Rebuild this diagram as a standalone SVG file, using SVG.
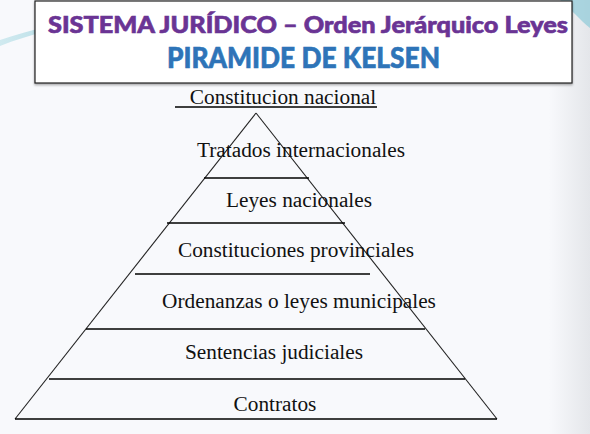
<svg xmlns="http://www.w3.org/2000/svg" width="590" height="434" viewBox="0 0 590 434">
  <defs>
    <linearGradient id="bg" x1="0" y1="0" x2="1" y2="0">
      <stop offset="0" stop-color="#f8f9fc"/>
      <stop offset="0.93" stop-color="#f8f9fc"/>
      <stop offset="1" stop-color="#e4e6ea"/>
    </linearGradient>
    <linearGradient id="sw" x1="0" y1="0" x2="1" y2="0">
      <stop offset="0" stop-color="#bfe3ea"/>
      <stop offset="1" stop-color="#7cc3d3"/>
    </linearGradient>
    <filter id="sh" x="-5%" y="-5%" width="110%" height="120%">
      <feDropShadow dx="0" dy="1.5" stdDeviation="1" flood-color="#000" flood-opacity="0.35"/>
    </filter>
  </defs>
  <style>
    .lbl { font-family: "Liberation Serif", "Times New Roman", serif; font-size: 21.3px; fill: #111; text-anchor: middle; }
    .edge { stroke: #222; stroke-width: 1.1; fill: none; }
    .sep { stroke: #000; stroke-width: 1.3; fill: none; }
    .t1 { font-family: "Lato", "Open Sans", sans-serif; font-weight: 900; font-size: 22px; fill: #6a3494; stroke: #6a3494; stroke-width: 0.6; }
    .t2 { font-family: "Lato", "Open Sans", sans-serif; font-weight: 900; font-size: 28px; fill: #2e74b8; stroke: #2e74b8; stroke-width: 0.6; }
  </style>
  <rect width="590" height="434" fill="url(#bg)"/>
  <path d="M0,40 C30,30 70,20 120,12 L120,16 C70,24 30,34 0,46 Z" fill="url(#sw)" opacity="0.7"/>
  <path d="M560,0 L590,0 L590,28 C580,20 572,10 560,0 Z" fill="#8ecbd8" opacity="0.7"/>

  <g id="title">
    <rect x="35" y="1" width="537" height="82" fill="#ffffff" stroke="#222" stroke-width="1.2" filter="url(#sh)"/>
    <text class="t1" x="48" y="33" textLength="520" lengthAdjust="spacingAndGlyphs">SISTEMA JURÍDICO – Orden Jerárquico Leyes</text>
    <text class="t2" x="167" y="68" textLength="273" lengthAdjust="spacingAndGlyphs">PIRAMIDE DE KELSEN</text>
  </g>

  <g id="connectors">
    <line class="edge" x1="256" y1="113" x2="15" y2="419"/>
    <line class="edge" x1="256" y1="113" x2="497" y2="419"/>
    <line class="sep" x1="175" y1="107" x2="377" y2="107"/>
    <line class="sep" x1="204" y1="178" x2="309" y2="178"/>
    <line class="sep" x1="167" y1="223" x2="345" y2="223"/>
    <line class="sep" x1="135" y1="274" x2="370" y2="274"/>
    <line class="sep" x1="86" y1="329" x2="425" y2="329"/>
    <line class="sep" x1="49" y1="379" x2="465" y2="379"/>
    <line class="sep" x1="15" y1="419" x2="497" y2="419"/>
  </g>

  <g id="n1"><text class="lbl" x="283" y="104">Constitucion nacional</text></g>
  <g id="n2"><text class="lbl" x="301" y="157">Tratados internacionales</text></g>
  <g id="n3"><text class="lbl" x="299" y="207">Leyes nacionales</text></g>
  <g id="n4"><text class="lbl" x="296" y="257">Constituciones provinciales</text></g>
  <g id="n5"><text class="lbl" x="299" y="308">Ordenanzas o leyes municipales</text></g>
  <g id="n6"><text class="lbl" x="274" y="359">Sentencias judiciales</text></g>
  <g id="n7"><text class="lbl" x="275" y="411">Contratos</text></g>
</svg>
